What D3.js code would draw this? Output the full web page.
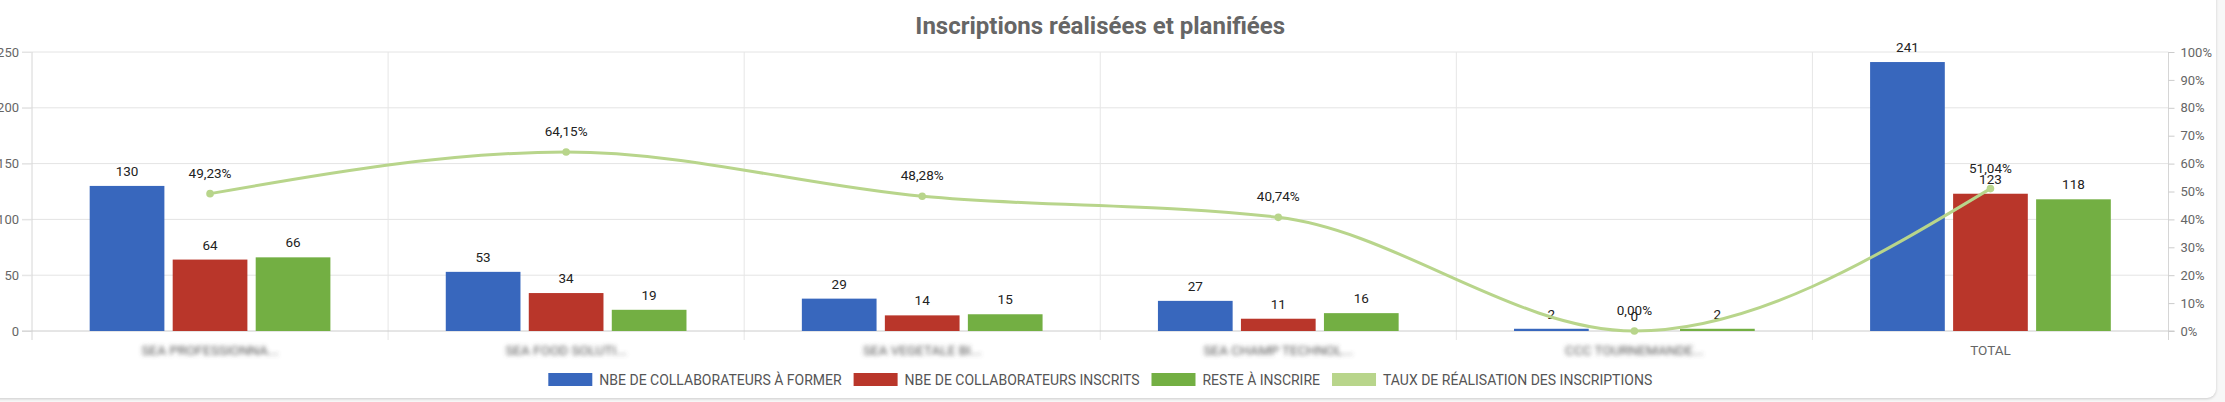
<!DOCTYPE html>
<html>
<head>
<meta charset="utf-8">
<script src="https://cdn.jsdelivr.net/npm/d3@7"></script>
<style>
  html, body { margin: 0; padding: 0; background: #f7f7f7; overflow: hidden; }
  body { width: 2225px; height: 402px; position: relative; font-family: Roboto, "Liberation Sans", sans-serif; }
  .card { position: absolute; left: -20px; top: -20px; width: 2236px; height: 418px; background: #fff;
          border-radius: 9px; box-shadow: 0 1px 3px rgba(0,0,0,0.18); }
  #chart { position: absolute; left: 0; top: 0; }
</style>
</head>
<body>
<div class="card"></div>
<div id="chart"></div>
<script>
const categories = ["SEA PROFESSIONNA...", "SEA FOOD SOLUTI...", "SEA VEGETALE BI...", "SEA CHAMP TECHNOL...", "CCC TOURNEMANDE...", "TOTAL"];
const aFormer = [130, 53, 29, 27, 2, 241];
const inscrits = [64, 34, 14, 11, 0, 123];
const resteAInscrire = [66, 19, 15, 16, 2, 118];
const tauxRealisation = [49.23, 64.15, 48.28, 40.74, 0.00, 51.04];
const leftTicks = [0, 50, 100, 150, 200, 250];
const rightTicks = [0, 10, 20, 30, 40, 50, 60, 70, 80, 90, 100];

const seriesNames = ["NBE DE COLLABORATEURS À FORMER", "NBE DE COLLABORATEURS INSCRITS", "RESTE À INSCRIRE", "TAUX DE RÉALISATION DES INSCRIPTIONS"];
const colors = ["#3867bd", "#b9362a", "#73af43", "#b8d58b"];

const width = 2225, height = 402;
const margin = { top: 52, right: 56.5, bottom: 71, left: 32 };
const plotW = width - margin.left - margin.right;
const plotH = height - margin.top - margin.bottom;

const svg = d3.select("#chart").append("svg")
  .attr("width", width)
  .attr("height", height);

const defs = svg.append("defs");
defs.append("filter").attr("id", "blur")
  .attr("x", "-20%").attr("y", "-80%").attr("width", "140%").attr("height", "260%")
  .append("feGaussianBlur").attr("stdDeviation", 2.2);

// title
svg.append("text")
  .attr("x", margin.left + plotW / 2)
  .attr("y", 34)
  .attr("text-anchor", "middle")
  .style("font-size", "24px")
  .style("font-weight", "bold")
  .style("fill", "#666")
  .text("Inscriptions réalisées et planifiées");

const g = svg.append("g").attr("transform", `translate(${margin.left},${margin.top})`);

const x0 = d3.scaleBand().domain(categories).range([0, plotW]).padding(0);
const groupW = x0.bandwidth() * 0.676;
const x1 = d3.scaleBand().domain([0, 1, 2]).range([0, groupW]).paddingInner(0.1);
const y = d3.scaleLinear().domain([0, 250]).range([plotH, 0]);
const yR = d3.scaleLinear().domain([0, 100]).range([plotH, 0]);

// horizontal grid
g.append("g")
  .selectAll("line")
  .data(leftTicks.filter(d => d > 0))
  .enter().append("line")
  .attr("x1", -10).attr("x2", plotW)
  .attr("y1", d => y(d)).attr("y2", d => y(d))
  .attr("stroke", "#e4e4e4");

// vertical grid (band boundaries)
const bounds = categories.map(c => x0(c)).concat([plotW]);
g.append("g")
  .selectAll("line")
  .data(bounds)
  .enter().append("line")
  .attr("x1", d => d).attr("x2", d => d)
  .attr("y1", 0).attr("y2", plotH + 9)
  .attr("stroke", (d, i) => (i === 0 || i === bounds.length - 1) ? "#d6d6d6" : "#e6e6e6");

// left axis
const leftAxis = g.append("g")
  .call(d3.axisLeft(y).tickValues(leftTicks).tickSize(10).tickPadding(3));
leftAxis.select(".domain").remove();
leftAxis.selectAll(".tick line").attr("stroke", "#e4e4e4");
leftAxis.selectAll("text").style("font-size", "13px").style("fill", "#666").style("font-family", "Roboto");

// right axis
const rightAxis = g.append("g")
  .attr("transform", `translate(${plotW},0)`)
  .call(d3.axisRight(yR).tickValues(rightTicks).tickSize(6).tickPadding(6).tickFormat(d => d + "%"));
rightAxis.select(".domain").remove();
rightAxis.selectAll(".tick line").attr("stroke", "#ccc");
rightAxis.selectAll("text").style("font-size", "13px").style("fill", "#666").style("font-family", "Roboto");

// baseline
g.append("line")
  .attr("x1", -10).attr("x2", plotW + 6)
  .attr("y1", plotH).attr("y2", plotH)
  .attr("stroke", "#ccc");

// bars
const barSeries = [aFormer, inscrits, resteAInscrire];
const offset = (x0.bandwidth() - groupW) / 2;
barSeries.forEach((vals, s) => {
  const sg = g.append("g").attr("fill", colors[s]);
  sg.selectAll("rect")
    .data(vals)
    .enter().append("rect")
    .attr("x", (d, i) => x0(categories[i]) + offset + x1(s))
    .attr("y", d => y(d))
    .attr("width", x1.bandwidth())
    .attr("height", d => plotH - y(d));
  g.append("g").selectAll("text")
    .data(vals)
    .enter().append("text")
    .attr("x", (d, i) => x0(categories[i]) + offset + x1(s) + x1.bandwidth() / 2)
    .attr("y", d => y(d) - 10)
    .attr("text-anchor", "middle")
    .style("font-size", "13.5px")
    .style("fill", "#222")
    .text(d => d);
});

// line
const cx = i => x0(categories[i]) + x0.bandwidth() / 2;
const line = d3.line()
  .x((d, i) => cx(i))
  .y(d => yR(d))
  .curve(d3.curveMonotoneX);

g.append("path")
  .datum(tauxRealisation)
  .attr("d", line)
  .attr("fill", "none")
  .attr("stroke", colors[3])
  .attr("stroke-width", 3);

g.append("g").selectAll("circle")
  .data(tauxRealisation)
  .enter().append("circle")
  .attr("cx", (d, i) => cx(i))
  .attr("cy", d => yR(d))
  .attr("r", 3.8)
  .attr("fill", colors[3]);

g.append("g").selectAll("text")
  .data(tauxRealisation)
  .enter().append("text")
  .attr("x", (d, i) => cx(i))
  .attr("y", d => yR(d) - 16)
  .attr("text-anchor", "middle")
  .style("font-size", "13.5px")
  .style("fill", "#222")
  .text(d => d.toFixed(2).replace(".", ",") + "%");

// category labels (blurred in the source)
g.append("g").selectAll("text")
  .data(categories)
  .enter().append("text")
  .attr("x", d => x0(d) + x0.bandwidth() / 2)
  .attr("y", plotH + 24)
  .attr("text-anchor", "middle")
  .style("font-size", "13.5px")
  .style("fill", d => d === "TOTAL" ? "#666" : "#555")
  .attr("filter", d => d === "TOTAL" ? null : "url(#blur)")
  .text(d => d);

// legend
const legend = svg.append("g").attr("transform", `translate(0, 373)`);
const items = legend.selectAll("g")
  .data(seriesNames)
  .enter().append("g");
items.append("rect")
  .attr("width", 44).attr("height", 13)
  .attr("fill", (d, i) => colors[i]);
items.append("text")
  .attr("x", 51).attr("y", 11.5)
  .style("font-size", "14px")
  .style("fill", "#555")
  .text(d => d);

let widths = [];
items.each(function () {
  widths.push(51 + this.querySelector("text").getComputedTextLength());
});
const gap = 12;
const total = d3.sum(widths) + gap * (widths.length - 1);
let lx = margin.left + plotW / 2 - total / 2;
items.attr("transform", (d, i) => {
  const t = `translate(${lx},0)`;
  lx += widths[i] + gap;
  return t;
});
</script>
</body>
</html>
